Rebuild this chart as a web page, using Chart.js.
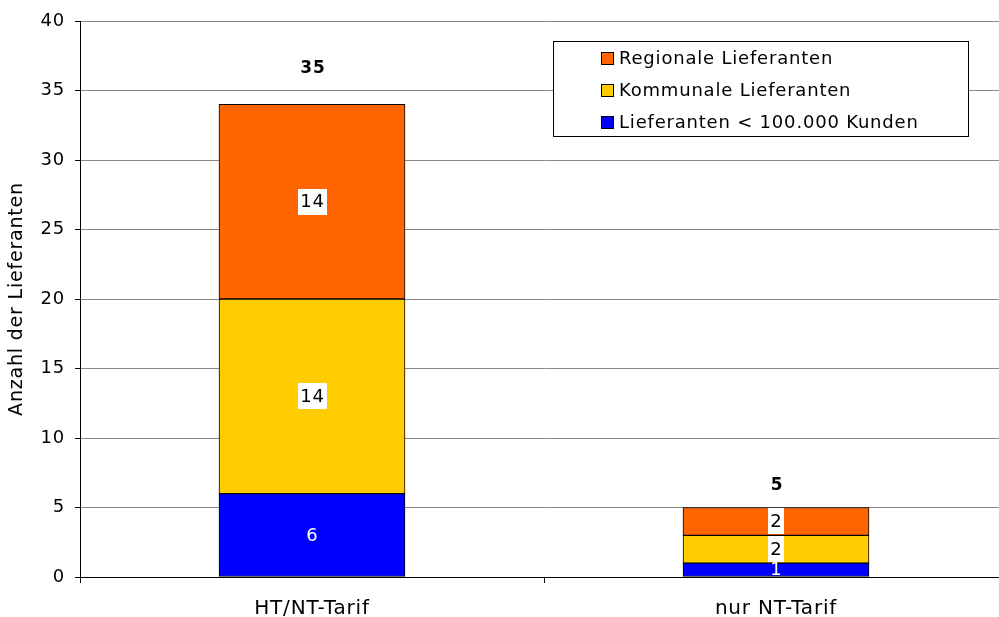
<!DOCTYPE html>
<html>
<head>
<meta charset="utf-8">
<script src="https://cdn.jsdelivr.net/npm/chart.js@4/dist/chart.umd.min.js"></script>
<style>
  html, body { margin: 0; padding: 0; background: #fff; overflow: hidden; }
  #wrap { width: 999px; height: 617px; overflow: hidden; }
</style>
</head>
<body>
<div id="wrap"><canvas id="c" width="1008" height="617"></canvas></div>
<script>
// Tarifarten (Kategorien)
const categories = ['HT/NT-Tarif', 'nur NT-Tarif'];

// Anzahl Lieferanten je Gruppe
const kleineLieferanten = [6, 1];     // Lieferanten < 100.000 Kunden
const kommunaleLieferanten = [14, 2];
const regionaleLieferanten = [14, 2];

// Summenbeschriftung über den Säulen
const totalLabels = [35, 5];

const yTicks = [0, 5, 10, 15, 20, 25, 30, 35, 40];

const FONT = '"DejaVu Sans", Verdana, sans-serif';

const datasets = [
  { label: 'Lieferanten < 100.000 Kunden', data: kleineLieferanten, backgroundColor: '#0000FF', labelStyle: 'white' },
  { label: 'Kommunale Lieferanten', data: kommunaleLieferanten, backgroundColor: '#FFCC00', labelStyle: 'box' },
  { label: 'Regionale Lieferanten', data: regionaleLieferanten, backgroundColor: '#FF6600', labelStyle: 'box' }
].map(d => Object.assign(d, {
  borderColor: '#000', borderWidth: 1, borderSkipped: false,
  barThickness: 186
}));

// etwas breitere Laufweite für alle Texte
const spacingPlugin = {
  id: 'letterSpacing',
  beforeDraw(chart) { chart.ctx.letterSpacing = '0.8px'; }
};

// Wertebeschriftungen in den Segmenten und Summen darüber
const labelPlugin = {
  id: 'segmentLabels',
  afterDatasetsDraw(chart) {
    const ctx = chart.ctx;
    ctx.save();
    ctx.font = '18px ' + FONT;
    ctx.textAlign = 'center';
    ctx.textBaseline = 'middle';
    chart.data.datasets.forEach((ds, di) => {
      const meta = chart.getDatasetMeta(di);
      meta.data.forEach((bar, i) => {
        const cx = bar.x;
        const cy = (bar.y + bar.base) / 2;
        const txt = String(ds.data[i]);
        if (ds.labelStyle === 'box') {
          const w = ctx.measureText(txt).width + 4;
          ctx.fillStyle = '#fff';
          ctx.fillRect(Math.round(cx - w / 2), Math.round(cy - 13), Math.round(w), 26);
          ctx.fillStyle = '#000';
        } else {
          ctx.fillStyle = '#fff';
        }
        ctx.fillText(txt, cx + 0.5, cy + 1);
      });
    });
    // Summen
    const y = chart.scales.y;
    const baseMeta = chart.getDatasetMeta(0);
    ctx.font = 'bold 17px ' + FONT;
    ctx.fillStyle = '#000';
    totalLabels.forEach((t, i) => {
      ctx.fillText(String(t), baseMeta.data[i].x + 1, y.getPixelForValue(t) - 22);
    });
    ctx.restore();
  },
  afterDraw(chart) {
    // Legende (umgekehrte Reihenfolge)
    const ctx = chart.ctx;
    ctx.save();
    const bx = 553.5, by = 41.5, bw = 415, bh = 95;
    ctx.fillStyle = '#fff';
    ctx.fillRect(bx, by, bw, bh);
    ctx.strokeStyle = '#000';
    ctx.lineWidth = 1;
    ctx.strokeRect(bx, by, bw, bh);
    ctx.font = '18px ' + FONT;
    ctx.textBaseline = 'middle';
    ctx.textAlign = 'left';
    const items = chart.data.datasets.slice().reverse();
    items.forEach((ds, k) => {
      const cy = 58 + k * 32;
      ctx.fillStyle = ds.backgroundColor;
      ctx.fillRect(601.5, cy - 5.5, 12, 12);
      ctx.strokeStyle = '#000';
      ctx.strokeRect(601.5, cy - 5.5, 12, 12);
      ctx.fillStyle = '#000';
      ctx.fillText(ds.label, 619, cy + 1);
    });
    ctx.restore();
  }
};

new Chart(document.getElementById('c'), {
  type: 'bar',
  data: { labels: categories, datasets },
  options: {
    responsive: false,
    animation: false,
    layout: { padding: { top: 21, right: 0, left: 0, bottom: 0 } },
    plugins: { legend: { display: false }, tooltip: { enabled: false } },
    scales: {
      x: {
        stacked: true,
        grid: { offset: true, drawOnChartArea: false, drawTicks: true, tickLength: 6, color: '#000' },
        border: { color: '#000', width: 1 },
        ticks: { color: '#000', font: { family: FONT, size: 20 }, padding: 14 },
        afterFit(s) { s.height = 40; }
      },
      y: {
        stacked: true,
        min: 0, max: 40,
        afterBuildTicks(s) { s.ticks = yTicks.map(v => ({ value: v })); },
        grid: { color: '#888', tickLength: 5, tickColor: '#000' },
        border: { color: '#000', width: 1 },
        ticks: { color: '#000', font: { family: FONT, size: 18 }, padding: 10 },
        title: { display: true, text: 'Anzahl der Lieferanten', color: '#000', font: { family: FONT, size: 19 }, padding: { top: 6, bottom: 0 } },
        afterFit(s) { s.width = 80; }
      }
    }
  },
  plugins: [spacingPlugin, labelPlugin]
});
</script>
</body>
</html>
